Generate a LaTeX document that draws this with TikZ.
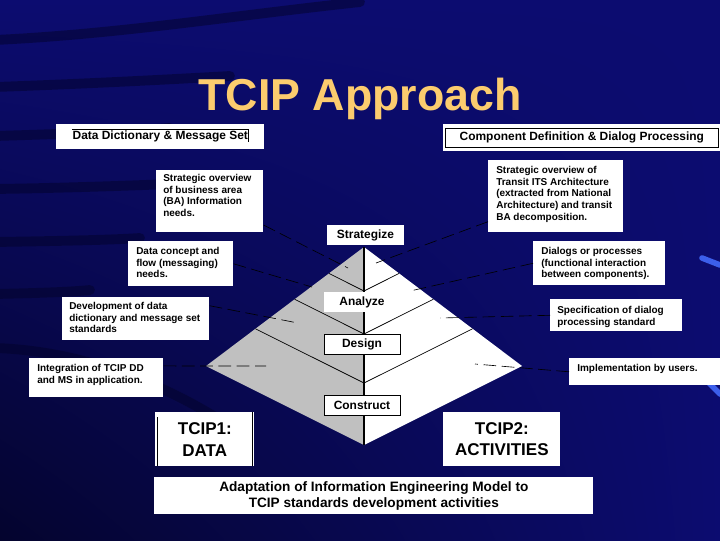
\documentclass[tikz,border=0pt]{standalone}
\usepackage{fontspec}
\setmainfont{Liberation Sans}
\usepackage{xcolor}
\usepackage{tikz}
\usetikzlibrary{calc, shadings}
\definecolor{slidebg}{RGB}{12,12,112}
\definecolor{slidedark}{RGB}{4,4,46}
\definecolor{streak}{RGB}{3,3,42}
\definecolor{titlegold}{RGB}{252,204,110}
\definecolor{pyrgray}{RGB}{192,192,192}
\definecolor{glint}{RGB}{60,95,235}

\begin{document}
\begin{tikzpicture}[
        x=0.025cm, y=-0.025cm,
        panel/.style={fill=white, inner sep=0pt, anchor=north west},
        note/.style={anchor=north west, align=left, inner sep=0pt, font=\fontsize{7.1}{8.3}\selectfont\bfseries},
        head/.style={font=\fontsize{8.5}{10}\selectfont\bfseries},
        stage/.style={fill=white, minimum width=1.9cm, minimum height=0.5cm, inner sep=0pt, font=\fontsize{8.5}{10}\selectfont\bfseries},
        big/.style={align=center, font=\fontsize{12.1}{15.4}\selectfont\bfseries},
        vline/.style={line width=0.5pt},
        link/.style={draw=black, line width=0.45pt, dash pattern=on 9pt off 4pt},
        swoosh/.style={draw=streak, line width=7pt, line cap=round, opacity=0.5}
    ]

    % Background
    \useasboundingbox (0,0) rectangle (720,540);
    \shade[upper left=slidebg, upper right=slidebg, lower left=slidedark, lower right=slidebg] (0,0) rectangle (720,540);
    \draw[swoosh] (-5,40) .. controls (120,34) and (230,16) .. (360,2);
    \draw[swoosh] (-5,87) .. controls (80,84) and (160,80) .. (230,76);
    \draw[swoosh] (-5,136) .. controls (60,134) and (120,132) .. (170,128);
    \draw[swoosh] (-5,189) .. controls (60,188) and (120,186) .. (170,184);
    \draw[swoosh] (-5,242) .. controls (60,241) and (110,240) .. (140,238);
    \draw[swoosh] (-5,294) .. controls (40,293) and (70,292) .. (90,290);
    \draw[swoosh] (-5,348) .. controls (60,350) and (140,370) .. (220,420);
    \draw[glint, line width=4pt, line cap=round] (702,258) -- (720,265);
    \draw[glint, line width=4pt, line cap=round] (706,380) -- (720,394);

    % Title
    \node[anchor=base, text=titlegold, font=\fontsize{31.8}{36}\selectfont\bfseries] (title) at (360,110) {TCIP Approach};

    % Pyramid
    \coordinate (ptop) at (364,247);
    \coordinate (pleft) at (206,366);
    \coordinate (pright) at (522,366);
    \coordinate (pbot) at (364,445);
    \fill[pyrgray] (ptop) -- (pleft) -- (pbot) -- cycle;
    \fill[white] (ptop) -- (pright) -- (pbot) -- cycle;
    \coordinate (v1) at (364,291);
    \coordinate (v2) at (364,334);
    \coordinate (v3) at (364,383);
    \draw[vline] ($(ptop)!0.222!(pleft)$) -- (v1) -- ($(ptop)!0.222!(pright)$);
    \draw[vline] ($(ptop)!0.439!(pleft)$) -- (v2) -- ($(ptop)!0.439!(pright)$);
    \draw[vline] ($(ptop)!0.687!(pleft)$) -- (v3) -- ($(ptop)!0.687!(pright)$);
    \draw[line width=2pt] (ptop) -- (pbot);

    \node[stage] (strategize) at (365.5,235) {Strategize};
    \node[stage] (analyze) at (362,302) {Analyze};
    \node[stage, draw] (design) at (362,344) {Design};
    \node[stage, draw] (construct) at (362,405) {Construct};

    % Data side
    \node[panel, minimum width=5.2cm, minimum height=0.625cm, head] (dd) at (56,124) {Data Dictionary \& Message Set};
    \draw ($(dd.north west)+(16,5)$) -- ($(dd.north east)+(-16,5)$) -- ++(0,13);
    \node[panel, minimum width=2.675cm, minimum height=1.55cm] (ovba) at (156,170) {};
    \node[note] (ovbat) at ($(ovba.north west)+(7,4)$) {Strategic overview\\of business area\\(BA) Information\\needs.};
    \node[panel, minimum width=2.625cm, minimum height=1.125cm] (concept) at (128,241) {};
    \node[note] (conceptt) at ($(concept.north west)+(8,6)$) {Data concept and\\flow (messaging)\\needs.};
    \node[panel, minimum width=3.675cm, minimum height=1.075cm] (devdd) at (62,297) {};
    \node[note] (devddt) at ($(devdd.north west)+(7,5)$) {Development of data\\dictionary and message set\\standards};
    \node[panel, minimum width=3.35cm, minimum height=0.975cm] (integ) at (29,358) {};
    \node[note] (integt) at ($(integ.north west)+(8,6)$) {Integration of TCIP DD\\and MS in application.};

    % Activity side
    \node[panel, minimum width=6.925cm, minimum height=0.675cm, head] (cd) at (443,124) {Component Definition \& Dialog Processing};
    \draw ($(cd.north west)+(2,4)$) rectangle ($(cd.south east)+(-2,-4)$);
    \node[panel, minimum width=3.375cm, minimum height=1.8cm] (ovits) at (488,160) {};
    \node[note] (ovitst) at ($(ovits.north west)+(8,6)$) {Strategic overview of\\Transit ITS Architecture\\(extracted from National\\Architecture) and transit\\BA decomposition.};
    \node[panel, minimum width=3.3cm, minimum height=1.1cm] (dialogs) at (533,241) {};
    \node[note] (dialogst) at ($(dialogs.north west)+(8,6)$) {Dialogs or processes\\(functional interaction\\between components).};
    \node[panel, minimum width=3.3cm, minimum height=0.8cm] (spec) at (550,299) {};
    \node[note] (spect) at ($(spec.north west)+(7,7)$) {Specification of dialog\\processing standard};
    \node[panel, minimum width=3.775cm, minimum height=0.675cm] (impl) at (569,358) {};
    \node[note] (implt) at ($(impl.north west)+(8,6)$) {Implementation by users.};

    % Bottom labels
    \node[panel, minimum width=2.475cm, minimum height=1.35cm, big] (tcip1) at (155,412) {TCIP1:\\DATA};
    \draw ($(tcip1.north west)+(2,5)$) -- ($(tcip1.south west)+(2,-1)$);
    \draw ($(tcip1.north east)+(-2,0)$) -- ($(tcip1.south east)+(-2,-1)$);
    \node[panel, minimum width=2.925cm, minimum height=1.35cm, big] (tcip2) at (443,412) {TCIP2:\\ACTIVITIES};
    \node[panel, minimum width=10.975cm, minimum height=0.925cm, align=center, font=\fontsize{9.7}{11.4}\selectfont\bfseries] (iem) at (154,477) {Adaptation of Information Engineering Model to\\TCIP standards development activities};

    % Links to the pyramid
    \coordinate (c1) at (348,268);
    \coordinate (c2) at (312,287);
    \coordinate (c3) at (298,323);
    \coordinate (c4) at (266,366);
    \coordinate (c5) at (376,263);
    \coordinate (c6) at (410,291);
    \coordinate (c7) at (440,318);
    \coordinate (c8) at (475,364);
    \draw[link] ($(ovba.north east)!0.88!(ovba.south east)$) -- (c1);
    \draw[link] (concept.east) -- (c2);
    \draw[link] ($(devdd.north east)!0.2!(devdd.south east)$) -- (c3);
    \draw[link] ($(integ.north east)!0.2!(integ.south east)$) -- (c4);
    \draw[link] ($(ovits.north west)!0.85!(ovits.south west)$) -- (c5);
    \draw[link] (dialogs.west) -- (c6);
    \draw[link] (spec.west) -- (c7);
    \draw[link] (impl.west) -- (c8);

    \end{tikzpicture}
\end{document}
